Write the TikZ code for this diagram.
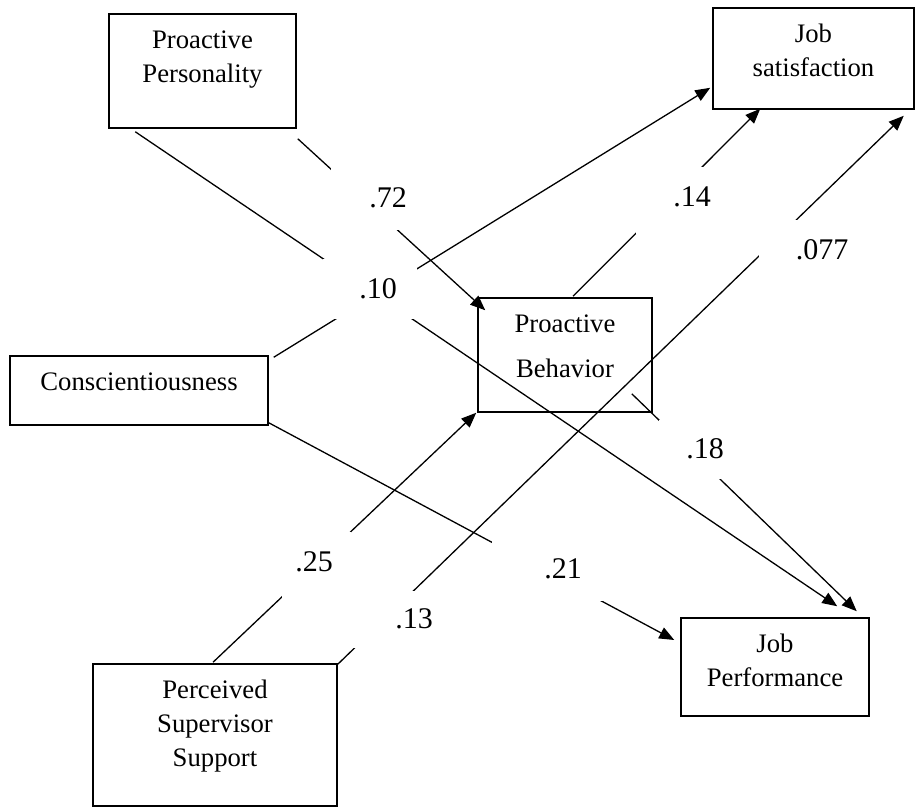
\documentclass[tikz,border=0pt]{standalone}
\usepackage{fontspec}
\setmainfont{Liberation Serif}
\usetikzlibrary{arrows.meta}
\begin{document}
\begin{tikzpicture}[x=1pt,y=-1pt,
  box/.style={draw, line width=1.5pt, inner sep=0pt},
  boxtext/.style={anchor=north, inner sep=0pt, align=center,
    font=\fontsize{26.7pt}{34pt}\selectfont},
  coef/.style={anchor=base, inner sep=0pt, font=\fontsize{30pt}{36pt}\selectfont},
  link/.style={line width=1.3pt, -{Triangle[length=15pt,width=12pt]}},
  gapmask/.style={fill=white}
]
\useasboundingbox (0,0) rectangle (917,809);

% construct boxes
\node[box, minimum width=187pt, minimum height=114pt] (pp) at (202.5,71) {};
\node[box, minimum width=201pt, minimum height=101pt] (js) at (813.5,58.5) {};
\node[box, minimum width=258pt, minimum height=69pt]  (cs) at (139,390.5) {};
\node[box, minimum width=174pt, minimum height=114pt] (pb) at (565,355) {};
\node[box, minimum width=244pt, minimum height=142pt] (ps) at (215,735) {};
\node[box, minimum width=188pt, minimum height=98pt]  (jp) at (775,667) {};

% box captions, set from the top of each box
\node[boxtext] (ppT) at ([yshift=-11pt]pp.north) {\strut Proactive\\Personality};
\node[boxtext] (jsT) at ([yshift=-11pt]js.north) {\strut Job\\satisfaction};
\node[boxtext] (csT) at ([yshift=-11pt]cs.north) {\strut Conscientiousness};
\node[boxtext] (pbT) at ([yshift=-11pt]pb.north) {\strut Proactive\\[11pt]Behavior};
\node[boxtext] (psT) at ([yshift=-11pt]ps.north) {\strut Perceived\\Supervisor\\Support};
\node[boxtext] (jpT) at ([yshift=-11pt]jp.north) {\strut Job\\Performance};

% paths
\draw[link] ([shift={(1,10)}]pp.south east)   -- ([shift={(8,13)}]pb.north west);
\draw[link] ([shift={(27,3)}]pp.south west)   -- ([shift={(157,-11)}]jp.north west);
\draw[link] ([shift={(5,2)}]cs.north east)    -- ([shift={(-2,-22)}]js.south west);
\draw[link] ([shift={(0,-3)}]cs.south east)   -- ([shift={(-6,-27)}]jp.west);
\draw[link] ([shift={(8,-1)}]pb.north)        -- ([shift={(48,-1)}]js.south west);
\draw[link] ([shift={(-21,-19)}]pb.south east) -- ([shift={(-13,-6)}]jp.north east);
\draw[link] ([shift={(0,1)}]ps.north east)    -- ([shift={(-11,6)}]js.south east);
\draw[link] ([shift={(-2,-1)}]ps.north)       -- ([shift={(-1,0)}]pb.south west);

% white text-box backgrounds behind the coefficients
\fill[gapmask] (331,168) rectangle (445,230);
\fill[gapmask] (323,259) rectangle (417,319);
\fill[gapmask] (636,167) rectangle (745,234);
\fill[gapmask] (759,220) rectangle (875,282);
\fill[gapmask] (353,591) rectangle (460,648);
\fill[gapmask] (282,532) rectangle (351,598);
\fill[gapmask] (492,541) rectangle (603,601);
\fill[gapmask] (659,420) rectangle (750,479);

% path coefficients
\node[coef] (c72)  at (388,207) {.72};
\node[coef] (c10)  at (378,298) {.10};
\node[coef] (c14)  at (692,206) {.14};
\node[coef] (c077) at (822,259) {.077};
\node[coef] (c13)  at (414,628) {.13};
\node[coef] (c25)  at (314,571) {.25};
\node[coef] (c21)  at (563,578) {.21};
\node[coef] (c18)  at (705,458) {.18};
\end{tikzpicture}
\end{document}
